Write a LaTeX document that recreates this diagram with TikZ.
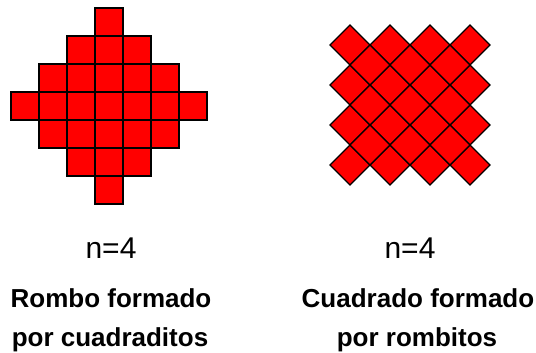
\documentclass[tikz,border=0pt]{standalone}
\usepackage{fontspec}
\setmainfont{Liberation Sans}
\usepackage{tikz}
\usetikzlibrary{positioning}
\tikzset{
x=1pt, y=-1pt, % coordinates as pixels, from the top left corner
tile/.style={draw=black, line width=1.3pt, fill=red, line join=miter}, % each small piece
count/.style={font=\fontsize{30}{30}\selectfont, anchor=base}, % the n=4 texts
caption/.style={font=\bfseries\fontsize{26}{26}\selectfont, anchor=base}, % the two line captions
}

\begin{document}
\begin{tikzpicture}
\useasboundingbox (0,0) rectangle (536,353);
% rombo: rows of 1,3,5,7,5,3,1 squares
\foreach \k in {-3,...,3} {
  \pgfmathtruncatemacro{\m}{3-abs(\k)}
  \foreach \i in {-\m,...,\m}
    \draw[tile] ({109+28*\i-14},{92+28*\k}) rectangle ++(28,28);
}
% cuadrado: 4x4 rombitos and 3x3 in between
\foreach \i in {0,...,3}
  \foreach \j in {0,...,3}
    \draw[tile] ({350+40*\i},{45+40*\j}) ++(-20,0) -- ++(20,-20) -- ++(20,20) -- ++(-20,20) -- cycle;
\foreach \i in {0,...,2}
  \foreach \j in {0,...,2}
    \draw[tile] ({370+40*\i},{65+40*\j}) ++(-20,0) -- ++(20,-20) -- ++(20,20) -- ++(-20,20) -- cycle;
\node[count] (nleft) at (111,258) {n=4};
\node[count] (nright) at (410,258) {n=4};
\node[caption] (rombo) at (111,307) {Rombo formado};
\node[caption] (rombo2) at (110,346) {por cuadraditos};
\node[caption] (cuadrado) at (418,307) {Cuadrado formado};
\node[caption] (cuadrado2) at (417,346) {por rombitos};
\end{tikzpicture}
\end{document}
